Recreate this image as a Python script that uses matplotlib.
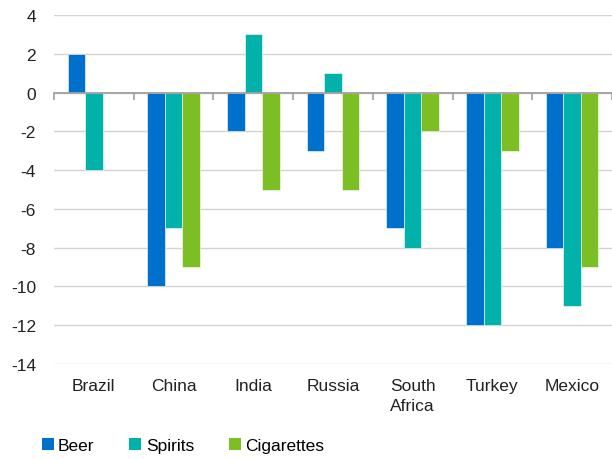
import matplotlib
matplotlib.use("Agg")
import matplotlib.pyplot as plt
import numpy as np
from matplotlib.patches import Patch

categories = ["Brazil", "China", "India", "Russia", "South\nAfrica", "Turkey", "Mexico"]
beer = [2, -10, -2, -3, -7, -12, -8]
spirits = [-4, -7, 3, 1, -8, -12, -11]
cigarettes = [0, -9, -5, -5, -2, -3, -9]
series_names = ["Beer", "Spirits", "Cigarettes"]
colors = ["#0070CD", "#00B2A9", "#7BBF24"]
yticks = list(range(-14, 5, 2))

plt.rcParams['font.family'] = ['Liberation Sans', 'DejaVu Sans']

fig = plt.figure(figsize=(6.12, 4.6), dpi=100)
ax = fig.add_axes([54/612, 1 - 365/460, 1 - 54/612, (365 - 16)/460])

x = np.arange(len(categories))
w = 0.22
for i, (vals, c) in enumerate(zip([beer, spirits, cigarettes], colors)):
    ax.bar(x + (i - 1) * w, vals, width=w, color=c, edgecolor="white", linewidth=0.4, zorder=3)

ax.set_xlim(-0.5, len(categories) - 0.5)
ax.set_ylim(-14, 4)
ax.set_yticks(yticks)
ax.set_yticklabels([str(v) for v in yticks])
ax.grid(axis="y", color="#D3D3D3", linewidth=1, zorder=0)
for s in ax.spines.values():
    s.set_visible(False)
ax.tick_params(axis="y", length=0, pad=13, labelsize=12.5, labelcolor="#222222")
ax.set_xticks(x)
ax.set_xticklabels(categories, va="top", multialignment="left", linespacing=1.45)
ax.tick_params(axis="x", length=0, pad=10, labelsize=12.5, labelcolor="#222222")

# zero axis with boundary ticks
sec = ax.secondary_xaxis(0, transform=ax.transData)
sec.set_xticks(np.arange(len(categories) + 1) - 0.5)
sec.set_xticklabels([])
sec.tick_params(axis="x", direction="out", length=5, color="#A0A0A0", width=1.2)
sec.spines["bottom"].set_color("#A0A0A0")
sec.spines["bottom"].set_linewidth(1.3)
sec.set_zorder(4)

handles = [Patch(facecolor=c, edgecolor="none") for c in colors]
fig.legend(handles, series_names, loc="center left", bbox_to_anchor=(0.068, 0.03),
           ncol=3, frameon=False, fontsize=12.5, handlelength=0.7, handleheight=0.7,
           handletextpad=0.25, columnspacing=2.0, borderpad=0, borderaxespad=0)

fig.savefig("out.png", dpi=100)
